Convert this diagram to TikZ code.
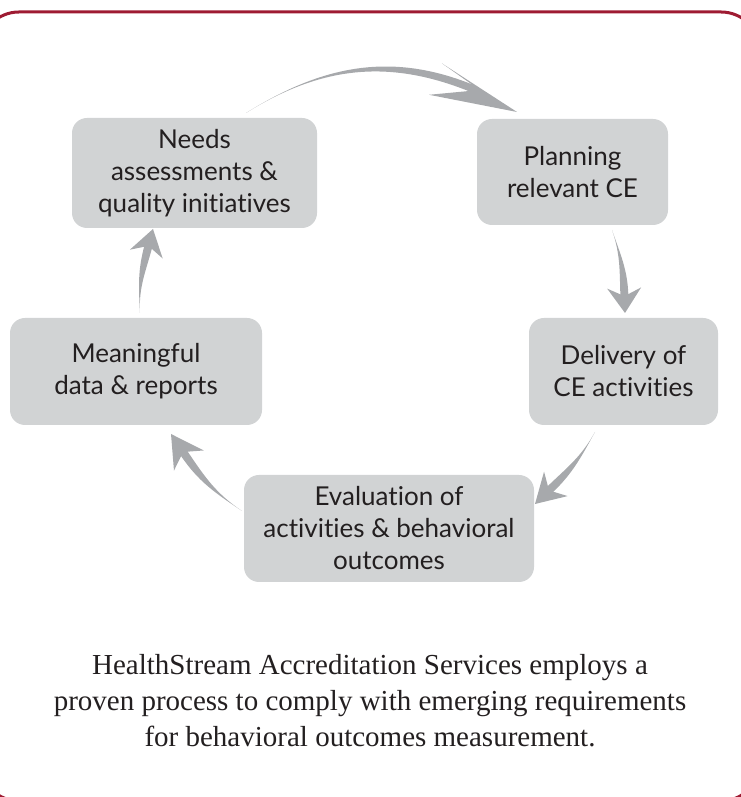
\documentclass[tikz,border=0pt]{standalone}
\usepackage{fontspec}
\setmainfont{Liberation Serif}
\newfontfamily\boxfont{Lato}[Ligatures=NoCommon]
\usetikzlibrary{calc}
\definecolor{framered}{HTML}{9E1B32}
\definecolor{boxgray}{HTML}{D1D3D4}
\definecolor{arrowgray}{HTML}{A7A9AC}
\definecolor{txtgray}{HTML}{231F20}
% #1 tail, #2 tip, #3 out angle, #4 head direction, #5 head length,
% #6 head half width, #7 shaft width, #8 notch depth ratio, #9 shaft offset
\newcommand\cyclearrow[9]{%
  \pgfmathsetmacro\arin{#4+180}%
  \begin{scope}[shift={(#2)}, rotate=#4]
    \fill[arrowfill] (0,0) .. controls ({-0.5*#5},{0.45*#6}) .. ({-#5},{#6})
      -- ({-#8*#5},{#7/2+#9}) -- ({-#8*#5},{-#7/2+#9}) -- ({-#5},{-#6})
      .. controls ({-0.5*#5},{-0.45*#6}) .. (0,0) -- cycle;
    \coordinate (sa) at ({-#8*#5+1.5},{#7/2+#9});
    \coordinate (sb) at ({-#8*#5+1.5},{-#7/2+#9});
  \end{scope}
  \fill[arrowfill] (#1) to[out=#3, in=\arin] (sa) -- (sb) to[out=\arin, in=#3] (#1) -- cycle;
}
\begin{document}
\begin{tikzpicture}[x=1pt,y=1pt,
  stage/.style={fill=boxgray, rounded corners=15pt, align=center, text=txtgray,
    font=\boxfont\fontsize{26}{32}\selectfont, inner sep=0pt},
  arrowfill/.style={fill=arrowgray},
  caption/.style={align=center, text=txtgray, font=\fontsize{29}{36}\selectfont}]
\useasboundingbox (0,0) rectangle (740,797);
\draw[framered, line width=3pt, rounded corners=39pt] (-20,785) rectangle (760,-4);

\node[stage, minimum width=245pt, minimum height=110pt] (needs) at (194.5,624)
  {Needs\\assessments \&\\quality initiatives};
\node[stage, minimum width=191pt, minimum height=106pt] (plan) at (572.5,625)
  {Planning\\relevant CE};
\node[stage, minimum width=189pt, minimum height=107pt] (deliv) at (623.5,425.5)
  {Delivery of\\CE activities};
\node[stage, minimum width=290pt, minimum height=107pt] (eval) at (389,268.5)
  {Evaluation of\\activities \& behavioral\\outcomes};
\node[stage, minimum width=252pt, minimum height=107pt] (mean) at (136,425.5)
  {Meaningful\\data \& reports};

\coordinate (t1) at (246,684); \coordinate (h1) at (517,685);
\coordinate (t2) at (612,567); \coordinate (h2) at (625,484);
\coordinate (t3) at (595,365); \coordinate (h3) at (535,293);
\coordinate (t4) at (242,286); \coordinate (h4) at (171,363);
\coordinate (t5) at (140,484); \coordinate (h5) at (153,568);

\cyclearrow{t1}{h1}{32}{-22}{88}{17}{7.5}{0.6}{5}
\cyclearrow{t2}{h2}{-71}{-88}{25}{17}{8}{0.75}{0}
\cyclearrow{t3}{h3}{-119}{-136}{29}{17}{8}{0.75}{0}
\cyclearrow{t4}{h4}{146}{124}{32}{18}{8}{0.75}{0}
\cyclearrow{t5}{h5}{93}{75}{26}{17}{8}{0.75}{0}

\node[caption] (cap) at (370,96)
  {HealthStream Accreditation Services employs a\\proven process to comply with emerging requirements\\for behavioral outcomes measurement.};
\end{tikzpicture}
\end{document}
